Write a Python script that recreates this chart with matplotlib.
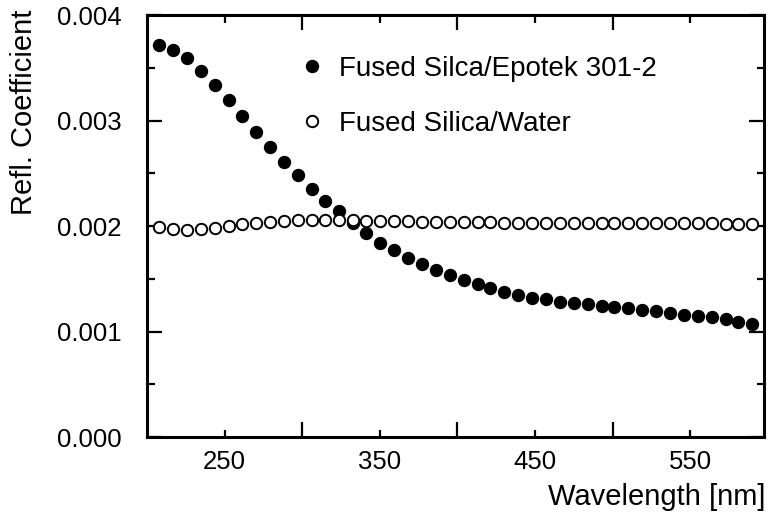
import matplotlib
matplotlib.use("Agg")
import matplotlib.pyplot as plt

plt.rcParams['font.family'] = ['Liberation Sans', 'DejaVu Sans']

# Wavelength grid [nm]
wavelength = [208, 217, 226, 235, 244, 253, 261, 270, 279, 288,
              297, 306, 315, 324, 333, 341, 350, 359, 368, 377,
              386, 395, 404, 413, 421, 430, 439, 448, 457, 466,
              475, 484, 493, 501, 510, 519, 528, 537, 546, 555,
              564, 573, 581, 590]

# Reflection coefficient, fused silica / Epotek 301-2 interface
refl_epotek = [0.00372, 0.00367, 0.00359, 0.00347, 0.00334, 0.00319, 0.00304, 0.00289, 0.00275, 0.00261,
               0.00248, 0.00235, 0.00224, 0.00214, 0.00203, 0.00193, 0.00184, 0.00177, 0.00170, 0.00164,
               0.00158, 0.00154, 0.00149, 0.00145, 0.00141, 0.00137, 0.00135, 0.00132, 0.001305, 0.00128,
               0.00127, 0.00126, 0.00124, 0.001235, 0.00122, 0.00120, 0.00119, 0.00118, 0.00116, 0.00115,
               0.001135, 0.00112, 0.00109, 0.00107]

# Reflection coefficient, fused silica / water interface
refl_water = [0.00199, 0.00197, 0.00196, 0.00197, 0.00198, 0.00200, 0.00202, 0.00203, 0.00204, 0.00205,
              0.002055, 0.00206, 0.00206, 0.00206, 0.002055, 0.00205, 0.00205, 0.002045, 0.002045, 0.00204,
              0.00204, 0.00204, 0.002035, 0.002035, 0.002035, 0.00203, 0.00203, 0.00203, 0.00203, 0.00203,
              0.00203, 0.00203, 0.00203, 0.00203, 0.00203, 0.00203, 0.002025, 0.002025, 0.002025, 0.002025,
              0.002025, 0.00202, 0.00202, 0.00202]

label_epotek = "Fused Silca/Epotek 301-2"
label_water = "Fused Silica/Water"

x_major = [300, 400, 500]
x_labeled = [250, 350, 450, 550]
y_major = [0.000, 0.001, 0.002, 0.003, 0.004]
y_minor = [0.0005, 0.0015, 0.0025, 0.0035]

fig = plt.figure(figsize=(7.72, 5.21), dpi=100)
ax = fig.add_axes([0.1904, 0.1612, 0.7992, 0.8100])

ax.plot(wavelength, refl_epotek, linestyle='none', marker='o', markersize=8.6,
        markerfacecolor='black', markeredgecolor='black', label=label_epotek)
ax.plot(wavelength, refl_water, linestyle='none', marker='o', markersize=8.2,
        markerfacecolor='white', markeredgecolor='black', markeredgewidth=1.4,
        label=label_water)

ax.set_xlim(200, 597.5)
ax.set_ylim(0.0, 0.004)

ax.set_xticks(x_major)
ax.set_xticklabels([''] * len(x_major))
ax.set_xticks(x_labeled, minor=True)
ax.set_xticklabels([str(v) for v in x_labeled], minor=True)

ax.set_yticks(y_major)
ax.set_yticklabels([f"{v:.3f}" for v in y_major])
ax.set_yticks(y_minor, minor=True)

for s in ax.spines.values():
    s.set_linewidth(2.2)

ax.tick_params(which='both', direction='in', top=True, right=True, width=1.6,
               labelsize=18.5, color='black')
ax.tick_params(which='major', length=10.8)
ax.tick_params(which='minor', length=5.4)
ax.tick_params(axis='x', which='minor', pad=9)
ax.tick_params(axis='y', which='major', pad=18)

ax.set_xlabel("Wavelength [nm]", fontsize=21, ha='right')
ax.xaxis.set_label_coords(1.002, -0.109)
ax.set_ylabel("Refl. Coefficient", fontsize=21)
ax.yaxis.set_label_coords(-0.176, 0.77)

ax.legend(loc='upper left', bbox_to_anchor=(0.232, 0.93), frameon=False,
          numpoints=1, handlelength=0.8, handletextpad=0.55, labelspacing=1.04,
          fontsize=20, borderaxespad=0)

fig.savefig("out.png", dpi=100)
